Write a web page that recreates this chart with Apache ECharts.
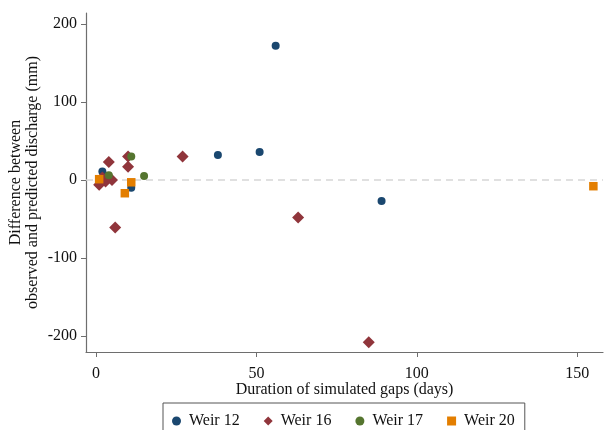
<!DOCTYPE html>
<html>
<head>
<meta charset="utf-8">
<script src="https://cdn.jsdelivr.net/npm/echarts@6/dist/echarts.min.js"></script>
<style>
  html, body { margin: 0; padding: 0; background: #fff; }
  #chart { width: 604px; height: 430px; }
</style>
</head>
<body>
<div id="chart"></div>
<script>
// Gap duration (days) vs. observed minus predicted discharge (mm), per weir
const seriesNames = ['Weir 12', 'Weir 16', 'Weir 17', 'Weir 20'];
const weir12 = [[2, 11], [11, -10], [38, 32], [51, 36], [56, 172], [89, -27]];
const weir16 = [[1, -6], [2, 3], [3, -2], [5, 0], [4, 23], [6, -61], [10, 30], [10, 17], [27, 30], [63, -48], [85, -208]];
const weir17 = [[4, 6], [11, 30], [15, 5]];
const weir20 = [[1, 1], [9, -17], [11, -3], [155, -8]];
const xTicks = [0, 50, 100, 150];
const yTicks = [-200, -100, 0, 100, 200];

const FONT = '"Liberation Serif", "Times New Roman", serif';
const AXIS_GREY = '#6e6e6e';
const colors = ['#1a476f', '#90353b', '#55752f', '#e37e00'];
const symbols = ['circle', 'diamond', 'circle', 'rect'];
const sizes = [8, 12, 8, 8.5];
const datasets = [weir12, weir16, weir17, weir20];

const chart = echarts.init(document.getElementById('chart'), null, { renderer: 'canvas' });

const series = datasets.map((d, i) => ({
  name: seriesNames[i],
  type: 'scatter',
  data: d,
  symbol: symbols[i],
  symbolSize: sizes[i],
  itemStyle: { color: colors[i], opacity: 1 },
  emphasis: { disabled: true },
  z: 3 + i
}));

// Zero reference line
series[0].markLine = {
  silent: true,
  symbol: ['none', 'none'],
  label: { show: false },
  lineStyle: { color: '#d6d6d6', type: [7, 5], width: 1.5 },
  data: [{ yAxis: 0 }],
  z: 1
};

chart.setOption({
  animation: false,
  backgroundColor: '#fff',
  textStyle: { fontFamily: FONT },
  grid: { left: 86, right: 1, top: 13, bottom: 78, containLabel: false, outerBoundsMode: 'none' },
  xAxis: {
    type: 'value',
    min: -3.1,
    max: 158,
    name: 'Duration of simulated gaps (days)',
    nameLocation: 'middle',
    nameGap: 30,
    nameMoveOverlap: false,
    nameTextStyle: { fontFamily: FONT, fontSize: 16, color: '#111' },
    splitLine: { show: false },
    axisLine: { show: true, onZero: false, lineStyle: { color: AXIS_GREY, width: 1.2 } },
    axisTick: { show: true, length: 5, customValues: xTicks, lineStyle: { color: AXIS_GREY } },
    axisLabel: { customValues: xTicks, fontFamily: FONT, fontSize: 16, color: '#111', margin: 14 }
  },
  yAxis: {
    type: 'value',
    min: -220.5,
    max: 214,
    name: 'Difference between\nobserved and predicted discharge (mm)',
    nameLocation: 'middle',
    nameRotate: 90,
    nameGap: 45,
    nameMoveOverlap: false,
    nameTextStyle: { fontFamily: FONT, fontSize: 16, color: '#111', lineHeight: 17 },
    splitLine: { show: false },
    axisLine: { show: true, onZero: false, lineStyle: { color: AXIS_GREY, width: 1.2 } },
    axisTick: { show: true, length: 5, customValues: yTicks, lineStyle: { color: AXIS_GREY } },
    axisLabel: { customValues: yTicks, fontFamily: FONT, fontSize: 16, color: '#111', margin: 9 }
  },
  legend: {
    left: 163,
    top: 403,
    orient: 'horizontal',
    borderColor: '#555',
    borderWidth: 1,
    padding: [10, 10, 12, 9],
    itemWidth: 9,
    itemHeight: 9,
    itemGap: 24,
    textStyle: { fontFamily: FONT, fontSize: 16, color: '#111', padding: [0, 0, 0, 3] },
    data: seriesNames.map((n, i) => ({ name: n, icon: symbols[i] }))
  },
  series: series
});
</script>
</body>
</html>
